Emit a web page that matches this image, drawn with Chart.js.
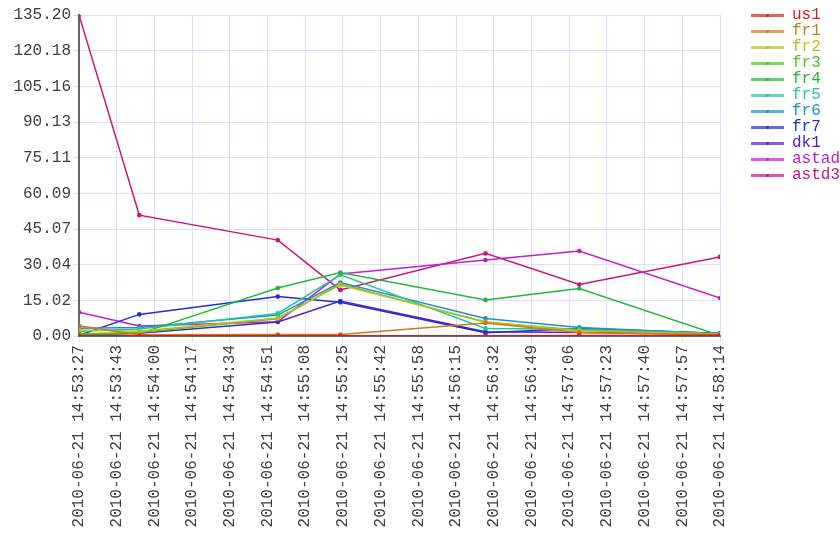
<!DOCTYPE html>
<html>
<head>
<meta charset="utf-8">
<script src="https://cdn.jsdelivr.net/npm/chart.js@4/dist/chart.umd.min.js"></script>
<style>
  body { margin: 0; background: #fff; }
  #wrap { position: relative; width: 840px; height: 560px; }
  #legend { position: absolute; left: 751px; top: 7px; font: 16px "Liberation Mono", monospace; }
  #legend .item { position: relative; height: 16px; line-height: 16px; white-space: nowrap; }
  #legend .ln { position: absolute; left: 0; top: 7px; width: 33px; height: 3px; opacity: 0.7; }
  #legend .dot { position: absolute; left: 15px; top: 7px; width: 3px; height: 3px; border-radius: 2px; }
  #legend .txt { position: absolute; left: 41px; top: 0; }
</style>
</head>
<body>
<div id="wrap">
  <canvas id="chart"></canvas>
  <div id="legend"></div>
</div>
<script>
// sample times (2010-06-21)
var startTime = "14:53:27";
var sampleTimes = ["14:53:27", "14:53:54", "14:54:56", "14:55:24", "14:56:29", "14:57:11", "14:58:14"];

var tickLabels = [
  "2010-06-21 14:53:27", "2010-06-21 14:53:43", "2010-06-21 14:54:00", "2010-06-21 14:54:17",
  "2010-06-21 14:54:34", "2010-06-21 14:54:51", "2010-06-21 14:55:08", "2010-06-21 14:55:25",
  "2010-06-21 14:55:42", "2010-06-21 14:55:58", "2010-06-21 14:56:15", "2010-06-21 14:56:32",
  "2010-06-21 14:56:49", "2010-06-21 14:57:06", "2010-06-21 14:57:23", "2010-06-21 14:57:40",
  "2010-06-21 14:57:57", "2010-06-21 14:58:14"
];
var yMax = 135.20;
var yTickCount = 10;

var seriesNames = ["us1", "fr1", "fr2", "fr3", "fr4", "fr5", "fr6", "fr7", "dk1", "astad", "astd3"];

var us1   = [0.2, 0.1, 0.1, 0.1, 0.1, 0.2, 0.3];
var fr1   = [4.3, 0.5, 0.6, 0.6, 5.5, 1.5, 0.5];
var fr2   = [2.5, 2.0, 7.6, 21.5, 6.0, 2.2, 0.8];
var fr3   = [1.0, 1.5, 7.3, 21.9, 5.8, 2.5, 0.5];
var fr4   = [0.5, 1.0, 20.2, 26.7, 15.2, 20.0, 0.2];
var fr5   = [2.0, 3.0, 9.5, 25.8, 3.2, 2.8, 0.8];
var fr6   = [3.3, 3.6, 8.8, 22.5, 7.4, 3.6, 1.0];
var fr7   = [0.3, 9.1, 16.6, 14.2, 1.4, 3.2, 1.2];
var dk1   = [0.5, 1.2, 5.9, 14.7, 1.8, 1.5, 1.0];
var astad = [10.0, 4.2, 6.0, 26.1, 32.0, 35.8, 16.0];
var astd3 = [135.2, 50.9, 40.4, 19.4, 34.8, 21.7, 33.3];

var seriesValues = [us1, fr1, fr2, fr3, fr4, fr5, fr6, fr7, dk1, astad, astd3];
var seriesColors = ["#cc2222", "#cc7a1a", "#b8c020", "#5cc020", "#20b838", "#20c8a0",
                    "#2090c8", "#2030cc", "#5020cc", "#c020cc", "#cc1478"];

var toSec = function(t){
  var p = t.split(":");
  return (+p[0]) * 3600 + (+p[1]) * 60 + (+p[2]);
};
var t0 = toSec(startTime);
var xs = sampleTimes.map(function(t){ return toSec(t) - t0; });
var xMax = xs[xs.length - 1];

var datasets = seriesNames.map(function(name, i){
  return {
    label: name,
    data: seriesValues[i].map(function(v, j){ return {x: xs[j], y: v}; }),
    borderColor: seriesColors[i],
    backgroundColor: seriesColors[i],
    borderWidth: 1.5,
    pointRadius: 1.6,
    pointHoverRadius: 2,
    tension: 0
  };
});

var font = {family: "'Liberation Mono', monospace", size: 16};

new Chart(document.getElementById("chart"), {
  type: "line",
  data: {datasets: datasets},
  options: {
    responsive: true,
    maintainAspectRatio: false,
    animation: false,
    layout: {padding: {top: 15, right: 120, left: 0, bottom: 0}},
    plugins: {legend: {display: false}, tooltip: {enabled: false}},
    scales: {
      x: {
        type: "linear",
        min: 0,
        max: xMax,
        afterBuildTicks: function(s){
          s.ticks = tickLabels.map(function(l, i){ return {value: i * xMax / (tickLabels.length - 1)}; });
        },
        afterFit: function(s){ s.height = 224; },
        ticks: {
          autoSkip: false,
          minRotation: 90,
          maxRotation: 90,
          padding: 3,
          color: "#404040",
          font: font,
          callback: function(v, i){ return tickLabels[i]; }
        },
        grid: {color: "#dedeff", tickLength: 6},
        border: {color: "#666", width: 2}
      },
      y: {
        min: 0,
        max: yMax,
        afterBuildTicks: function(s){
          var t = [];
          for (var i = 0; i < yTickCount; i++) t.push({value: i * yMax / (yTickCount - 1)});
          s.ticks = t;
        },
        afterFit: function(s){ s.width = 79; },
        ticks: {
          padding: 2,
          color: "#404040",
          font: font,
          callback: function(v){ return v.toFixed(2); }
        },
        grid: {color: "#dedeff", tickLength: 6},
        border: {color: "#666", width: 2}
      }
    }
  }
});

// legend on the right, text coloured like each series
var legend = document.getElementById("legend");
seriesNames.forEach(function(name, i){
  var c = seriesColors[i];
  legend.innerHTML += '<div class="item"><span class="ln" style="background:' + c + '"></span>' +
    '<span class="dot" style="background:' + c + '"></span>' +
    '<span class="txt" style="color:' + c + '">' + name + '</span></div>';
});
</script>
</body>
</html>
